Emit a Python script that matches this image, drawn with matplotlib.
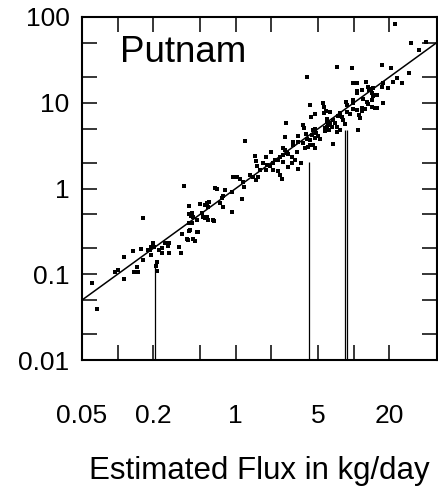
import numpy as np
import matplotlib
matplotlib.use('Agg')
import matplotlib.pyplot as plt

plt.rcParams['font.family'] = ['Liberation Sans', 'DejaVu Sans']

flux_est = [0.061, 0.067, 0.095, 0.101, 0.113, 0.113, 0.135, 0.137, 0.149, 0.146,
            0.164, 0.164, 0.157, 0.180, 0.188, 0.191, 0.199, 0.203, 0.191, 0.215,
            0.211, 0.215, 0.224, 0.237, 0.237, 0.251, 0.266, 0.272, 0.272, 0.330,
            0.343, 0.350, 0.393, 0.401, 0.401, 0.401, 0.401, 0.364, 0.385, 0.433,
            0.409, 0.468, 0.425, 0.425, 0.417, 0.433, 0.468, 0.450, 0.478, 0.496,
            0.516, 0.526, 0.547, 0.569, 0.580, 0.652, 0.591, 0.569, 0.547, 0.580,
            0.639, 0.665, 0.691, 0.732, 0.776, 0.776, 0.807, 0.762, 0.925, 0.925,
            1.124, 0.943, 1.02, 1.081, 1.146, 1.169, 1.191, 1.313, 1.392, 1.476,
            1.535, 1.447, 1.476, 1.504, 1.596, 1.691, 1.793, 1.793, 1.828, 1.938,
            1.976, 2.054, 2.054, 2.136, 2.265, 2.265, 2.354, 2.354, 2.447, 2.495,
            2.495, 2.495, 2.594, 2.594, 2.646, 2.698, 2.751, 2.751, 2.973, 2.973,
            3.031, 3.031, 3.15, 3.277, 3.342, 3.342, 3.342, 3.542, 3.683, 3.755,
            3.683, 3.829, 3.904, 3.981, 3.981, 4.06, 4.221, 4.221, 4.221, 4.304,
            4.388, 4.474, 4.474, 4.652, 4.652, 4.652, 4.652, 4.744, 4.932, 5.128,
            5.436, 5.543, 5.543, 5.652, 5.652, 5.763, 5.876, 5.876, 5.876, 5.99,
            6.11, 6.23, 6.23, 6.477, 6.6, 6.6, 6.865, 7.137, 7.137, 7.137,
            7.278, 7.568, 7.568, 7.868, 8.02, 8.34, 8.505, 8.67, 8.67, 9.19,
            9.55, 9.745, 9.745, 9.745, 9.745, 10.53, 10.53, 10.53, 10.53, 10.74,
            10.95, 11.17, 11.61, 11.61, 11.61, 11.84, 12.31, 12.55, 12.8, 13.05,
            13.05, 13.3, 13.83, 14.1, 14.1, 14.1, 14.38, 14.38, 14.95, 14.95,
            15.55, 15.55, 17.13, 17.13, 17.47, 17.47, 19.26, 20.8, 21.22, 22.07,
            22.94, 25.77, 29.54, 30.13, 35.9, 41.1]
flux_obs = [0.079, 0.039, 0.106, 0.112, 0.159, 0.088, 0.187, 0.106, 0.106, 0.122,
            0.453, 0.147, 0.197, 0.192, 0.192, 0.208, 0.231, 0.208, 0.168, 0.139,
            0.125, 0.109, 0.192, 0.202, 0.177, 0.231, 0.214, 0.231, 0.177, 0.208,
            0.177, 0.295, 0.251, 0.319, 0.396, 0.504, 0.625, 1.07, 0.258, 0.258,
            0.328, 0.311, 0.396, 0.518, 0.478, 0.465, 0.429, 0.244, 0.311, 0.659,
            0.518, 0.465, 0.453, 0.465, 0.429, 0.418, 0.696, 0.677, 0.642, 0.608,
            0.429, 1.01, 0.987, 0.677, 0.608, 0.818, 0.961, 0.775, 0.91, 0.532,
            0.754, 1.36, 1.36, 1.29, 1.19, 1.04, 3.58, 1.44, 1.36, 1.26,
            1.36, 2.39, 2.09, 1.83, 1.64, 1.98, 2.33, 1.64, 1.88, 1.83,
            2.67, 1.98, 1.64, 2.15, 2.15, 1.60, 2.33, 1.44, 1.29, 2.97,
            2.46, 2.04, 3.99, 2.81, 5.8, 2.59, 2.53, 1.78, 2.33, 1.98,
            3.49, 3.22, 2.15, 2.67, 4.10, 3.49, 1.69, 1.98, 5.5, 5.08,
            3.39, 2.97, 4.32, 19.96, 3.78, 3.05, 9.41, 3.68, 3.22, 6.82,
            4.21, 4.81, 3.22, 7.39, 4.94, 3.88, 2.97, 4.44, 4.10, 3.78,
            9.93, 8.92, 7.6, 5.08, 4.68, 8.01, 6.46, 5.96, 5.21, 5.5,
            4.81, 7.8, 5.8, 5.21, 6.29, 3.30, 5.8, 26.1, 5.21, 4.56,
            7.01, 7.6, 4.81, 6.82, 6.29, 5.65, 10.2, 9.41, 7.8, 7.39,
            25.4, 17.0, 10.77, 9.93, 8.46, 17.0, 13.71, 13.0, 8.23, 4.81,
            7.2, 6.64, 14.08, 8.69, 8.01, 11.06, 8.46, 17.46, 10.2, 15.27,
            9.67, 14.08, 14.46, 13.0, 10.77, 8.92, 14.86, 11.99, 12.31, 8.69,
            12.31, 8.69, 27.6, 15.27, 17.0, 9.93, 14.86, 25.4, 17.46, 82.8,
            19.44, 17.0, 22.2, 49.8, 41.2, 51.1]

# samples drawn as drop lines from the bottom axis
drop_x = [0.207, 4.14, 8.34, 8.67]
drop_y = [0.135, 2.04, 4.81, 4.81]

x_ticks = [0.05, 0.1, 0.2, 0.5, 1, 2, 5, 10, 20, 50]
x_labels = ['0.05', '', '0.2', '', '1', '', '5', '', '20', '']
y_ticks = [0.01, 0.02, 0.05, 0.1, 0.2, 0.5, 1, 2, 5, 10, 20, 50, 100]
y_labels = ['0.01', '', '', '0.1', '', '', '1', '', '', '10', '', '', '100']

fig = plt.figure(figsize=(4.38, 4.93), dpi=100)
ax = fig.add_axes([82 / 438, 1 - 360 / 493, 354.5 / 438, 343 / 493])

ax.set_xscale('log')
ax.set_yscale('log')
ax.set_xlim(0.05, 50)
ax.set_ylim(0.01, 100)

# 1:1 line
line = np.array([0.05, 50])
ax.plot(line, line, color='black', lw=1.1, zorder=3)

ax.scatter(flux_est, flux_obs, marker='s', s=10, color='black', linewidths=0, zorder=4)
ax.vlines(drop_x, 0.01, drop_y, color='black', lw=0.9, zorder=3)

ax.set_xticks(x_ticks)
ax.set_xticklabels(x_labels)
ax.set_yticks(y_ticks)
ax.set_yticklabels(y_labels)
ax.minorticks_off()
ax.tick_params(axis='both', which='major', direction='in', length=11, width=1.1,
               top=True, right=True, labelsize=19)
ax.tick_params(axis='x', pad=32)
ax.tick_params(axis='y', pad=9)
for sp in ax.spines.values():
    sp.set_linewidth(1.5)

ax.set_xlabel('Estimated Flux in kg/day', fontsize=22.5, labelpad=20)
ax.text(0.108, 0.87, 'Putnam', transform=ax.transAxes, fontsize=26.5, va='baseline')

fig.savefig('out.png', dpi=100)
